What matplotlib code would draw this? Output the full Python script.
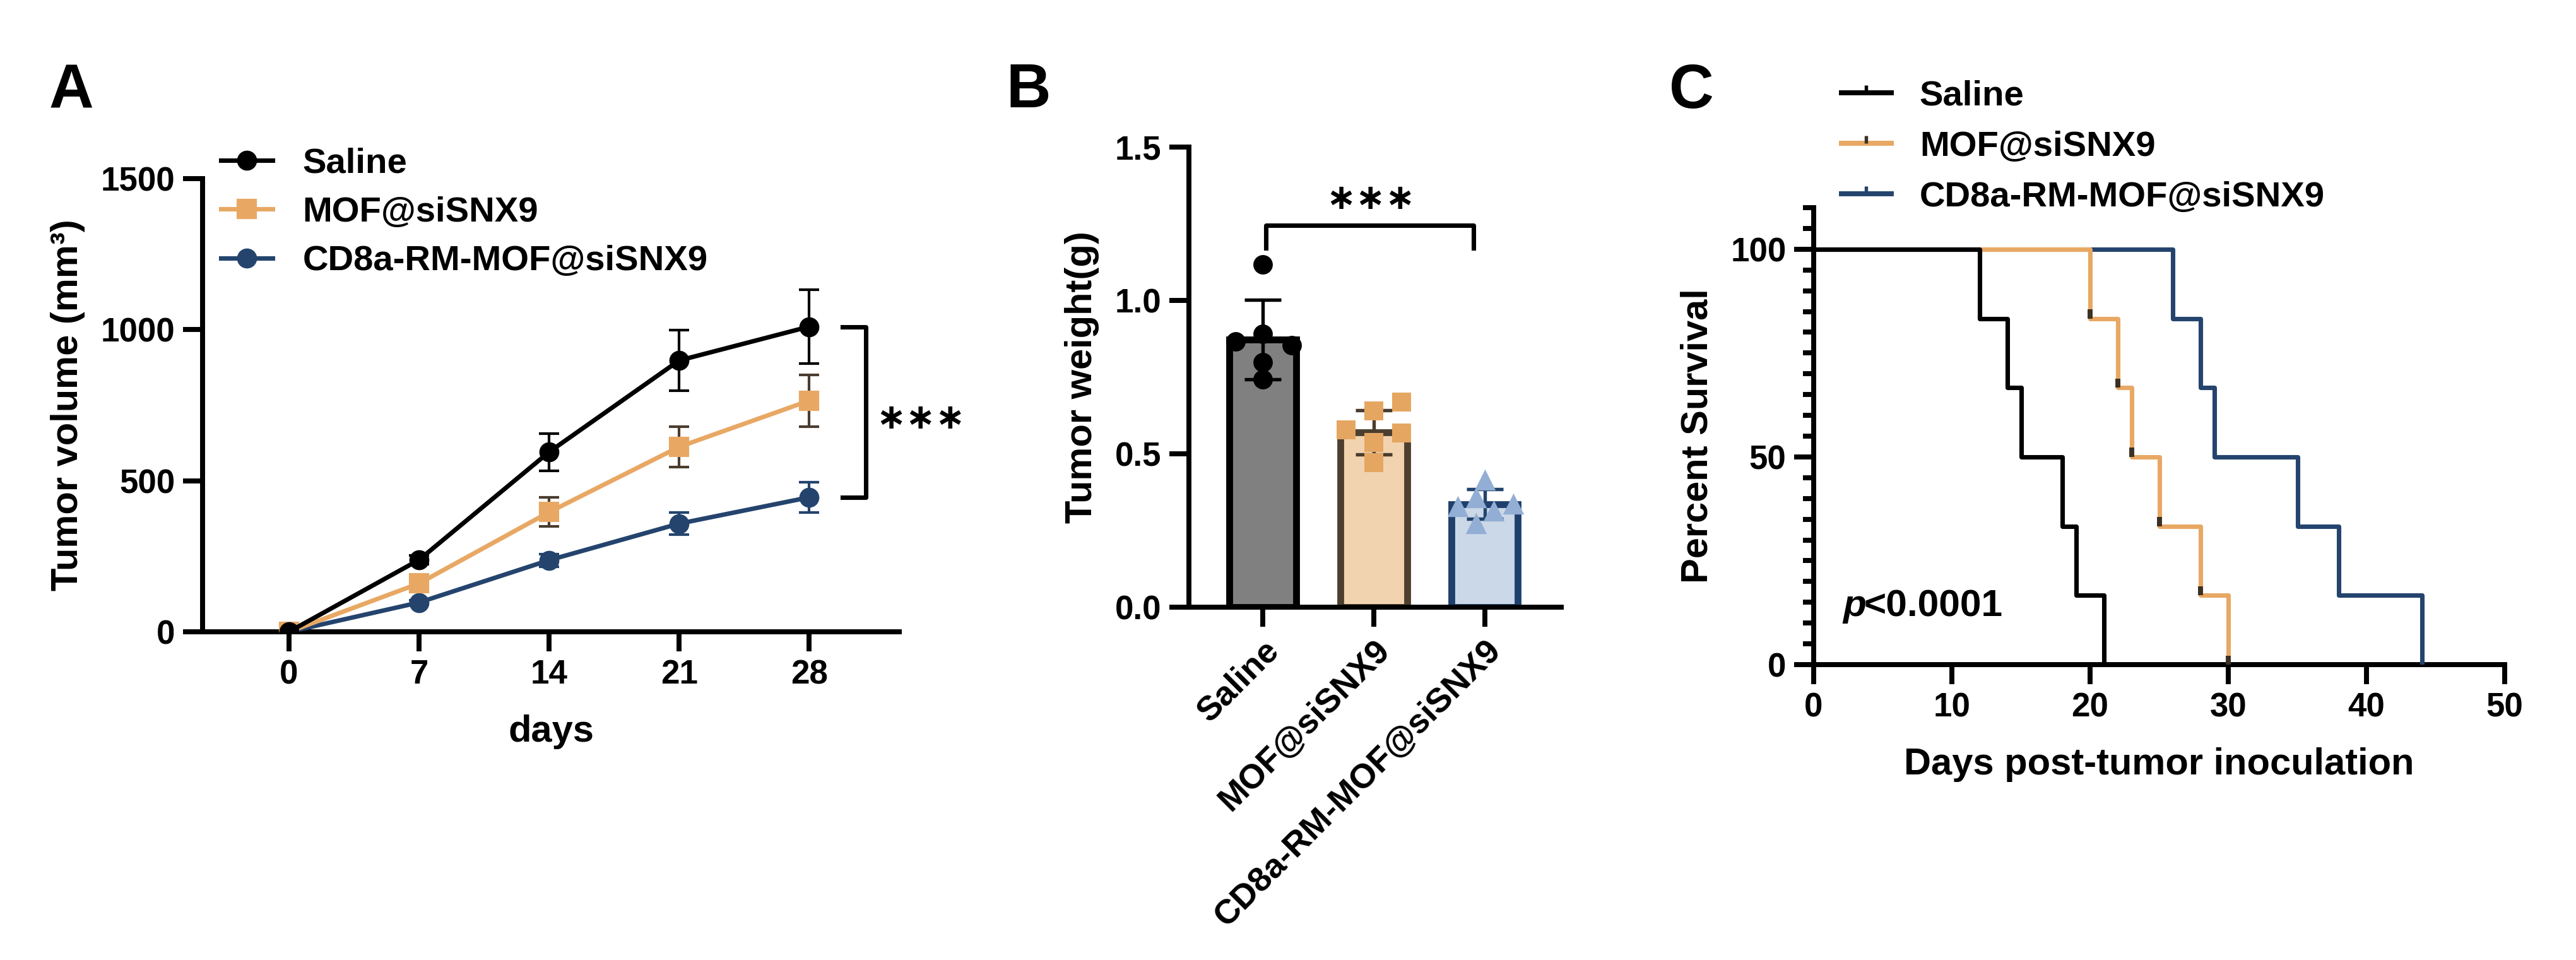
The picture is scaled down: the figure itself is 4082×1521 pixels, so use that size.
import numpy as np
import matplotlib.pyplot as plt
from matplotlib.lines import Line2D
from matplotlib.path import Path
from matplotlib.ticker import FormatStrFormatter

plt.rcParams['font.family'] = ['Liberation Sans', 'DejaVu Sans']
plt.rcParams['font.weight'] = 'bold'
plt.rcParams['axes.labelweight'] = 'bold'

# groups and colours
groups = ['Saline', 'MOF@siSNX9', 'CD8a-RM-MOF@siSNX9']
line_colors = ['#000000', '#E8A864', '#24446E']
err_colors = ['#000000', '#4A3C2E', '#24446E']

# A: tumour growth (mean +/- SD)
days = [0, 7, 14, 21, 28]
vol_saline = [0, 238, 595, 898, 1010]
vol_saline_sd = [0, 14, 62, 100, 123]
vol_mof = [0, 160, 396, 612, 765]
vol_mof_sd = [0, 12, 48, 67, 85]
vol_cd8 = [0, 97, 237, 358, 445]
vol_cd8_sd = [0, 8, 21, 37, 50]

# B: tumour weight
wt_means = [0.873, 0.570, 0.336]
wt_sd = [0.130, 0.072, 0.048]
wt_saline = [1.118, 0.867, 0.890, 0.853, 0.798, 0.743]
wt_mof = [0.578, 0.639, 0.669, 0.568, 0.537, 0.472]
wt_cd8 = [0.415, 0.330, 0.357, 0.315, 0.338, 0.274]
jit_saline = [0, -0.245, 0, 0.26, 0, 0]
jit_mof = [-0.25, 0, 0.25, 0.25, 0, 0]
jit_cd8 = [0, -0.245, -0.08, 0.08, 0.255, -0.08]

# C: survival
surv_levels = [100, 83.3, 66.7, 50, 33.3, 16.7, 0]
surv_t_saline = [0, 12, 14, 15, 18, 19, 21]
surv_t_mof = [0, 20, 22, 23, 25, 28, 30]
surv_t_cd8 = [0, 26, 28, 29, 35, 38, 44]

W, H = 4082, 1521
fig = plt.figure(figsize=(W / 300, H / 300), dpi=300)


def rect(l, r, t, b):
    return [l / W, 1 - b / H, (r - l) / W, (b - t) / H]


def style(ax):
    for s in ['top', 'right']:
        ax.spines[s].set_visible(False)
    for s in ['left', 'bottom']:
        ax.spines[s].set_linewidth(1.9)
    ax.tick_params(width=1.9, length=7.4, labelsize=12.7, pad=3)


star_font = dict(family='DejaVu Sans', fontsize=13.5, fontweight='bold')

# ---------------- A ----------------
axA = fig.add_axes(rect(321, 1425, 283, 1001))
style(axA)
series = [(vol_cd8, vol_cd8_sd, 'o', 2), (vol_mof, vol_mof_sd, 's', 1), (vol_saline, vol_saline_sd, 'o', 0)]
handles = {}
for vals, sd, mk, i in series:
    axA.errorbar(days, vals, yerr=sd, fmt='none', ecolor=err_colors[i], elinewidth=1.0,
                 capsize=3.8, capthick=1.0, zorder=3 + i * 0.1)
    h, = axA.plot(days, vals, color=line_colors[i], lw=1.7, marker=mk,
                  ms=6.8 if mk == 's' else 6.6, zorder=5 - i)
    handles[i] = h
axA.set_xlim(-4.65, 32.85)
axA.set_ylim(0, 1500)
axA.set_xticks(days)
axA.set_yticks([0, 500, 1000, 1500])
axA.set_xlabel('days', fontsize=14.3, labelpad=9)
axA.set_ylabel('Tumor volume (mm³)', fontsize=14.3, labelpad=6)
axA.legend([handles[0], handles[1], handles[2]], groups, loc='center left',
           bbox_to_anchor=(350 / W, 1 - 337 / H), bbox_transform=fig.transFigure,
           frameon=False, fontsize=13.5, handlelength=1.45, handletextpad=0.85,
           labelspacing=0.45, borderpad=0, borderaxespad=0)
axA.plot([29.8, 31.05, 31.05, 29.8], [vol_saline[-1], vol_saline[-1], vol_cd8[-1], vol_cd8[-1]],
         color='black', lw=1.7, clip_on=False)
axA.text(34.0, 703, '∗∗∗', ha='center', va='center', clip_on=False, **star_font)

# ---------------- B ----------------
axB = fig.add_axes(rect(1884, 2474, 233, 962))
style(axB)
xpos = np.arange(3)
fills = ['#808080', '#F2D3B0', '#CBD8E8']
edges = ['#000000', '#4D3F2F', '#1F406D']
axB.bar(xpos, wt_means, width=0.6, color=fills, edgecolor=edges, linewidth=2.6, zorder=2)
for i in range(3):
    axB.errorbar(xpos[i], wt_means[i], yerr=wt_sd[i], fmt='none', ecolor=err_colors[i],
                 elinewidth=1.3, capsize=7, capthick=1.3, zorder=3)
axB.scatter(xpos[0] + np.array(jit_saline), wt_saline, s=7.4 ** 2, marker='o',
            color='#000000', zorder=4, linewidths=0)
axB.scatter(xpos[1] + np.array(jit_mof), wt_mof, s=7.0 ** 2, marker='s',
            color='#E5A661', zorder=4, linewidths=0)
axB.scatter(xpos[2] + np.array(jit_cd8), wt_cd8, s=8.0 ** 2, marker='^',
            color='#93AED4', zorder=4, linewidths=0)
axB.set_xlim(-0.666, 2.69)
axB.set_ylim(0, 1.5)
axB.set_yticks([0, 0.5, 1.0, 1.5])
axB.yaxis.set_major_formatter(FormatStrFormatter('%.1f'))
axB.set_xticks(xpos)
axB.set_xticklabels(groups, rotation=45, ha='right', rotation_mode='anchor', fontsize=13)
axB.set_ylabel('Tumor weight(g)', fontsize=14.3, labelpad=6)
axB.plot([0.03, 0.03, 1.9, 1.9], [1.17, 1.244, 1.244, 1.17], color='black', lw=1.7, clip_on=False)
axB.text(0.97, 1.33, '∗∗∗', ha='center', va='center', **star_font)

# ---------------- C ----------------
axC = fig.add_axes(rect(2874, 3969, 329, 1053))
style(axC)
curves = [(surv_t_cd8, 2), (surv_t_mof, 1), (surv_t_saline, 0)]
for t, i in curves:
    axC.step(t, surv_levels, where='post', color=line_colors[i], lw=1.7, zorder=3 + (2 - i))
mof_drop_t = surv_t_mof[1:]
mof_drop_lvl = np.array(surv_levels[1:])
axC.vlines(mof_drop_t, mof_drop_lvl, mof_drop_lvl + 2.2, color='#3B3024', lw=1.9, zorder=4)
axC.set_xlim(0, 50)
axC.set_ylim(0, 110)
axC.set_xticks([0, 10, 20, 30, 40, 50])
axC.set_yticks([0, 50, 100])
axC.set_yticks([v for v in range(5, 111, 5) if v % 50 != 0], minor=True)
axC.tick_params(which='minor', length=4, width=1.9)
axC.set_xlabel('Days post-tumor inoculation', fontsize=14.3, labelpad=9)
axC.set_ylabel('Percent Survival', fontsize=14.3, labelpad=6)
axC.text(2.1, 14, 'p', fontsize=14.5, style='italic', ha='left', va='center')
axC.text(3.65, 14, '<0.0001', fontsize=14.5, ha='left', va='center')

tick_path = Path([(0, 0), (0, 1)])
tick_cols = ['#000000', '#3B3024', '#24446E']
c_handles = []
for i in range(3):
    ln = Line2D([], [], color=line_colors[i], lw=1.9)
    tk = Line2D([], [], color=tick_cols[i], marker=tick_path, ms=6, mew=1.3, ls='none')
    c_handles.append((ln, tk))
axC.legend(c_handles, groups, loc='center left',
           bbox_to_anchor=(2918 / W, 1 - 233 / H), bbox_transform=fig.transFigure,
           frameon=False, fontsize=13.5, handlelength=1.4, handletextpad=0.8,
           labelspacing=0.5, borderpad=0, borderaxespad=0)

# panel letters
for letter, xc in [('A', 113), ('B', 1630), ('C', 2680)]:
    fig.text(xc / W, 1 - 145 / H, letter, fontsize=23.5, ha='center', va='center')

fig.savefig('out.png', dpi=300)
